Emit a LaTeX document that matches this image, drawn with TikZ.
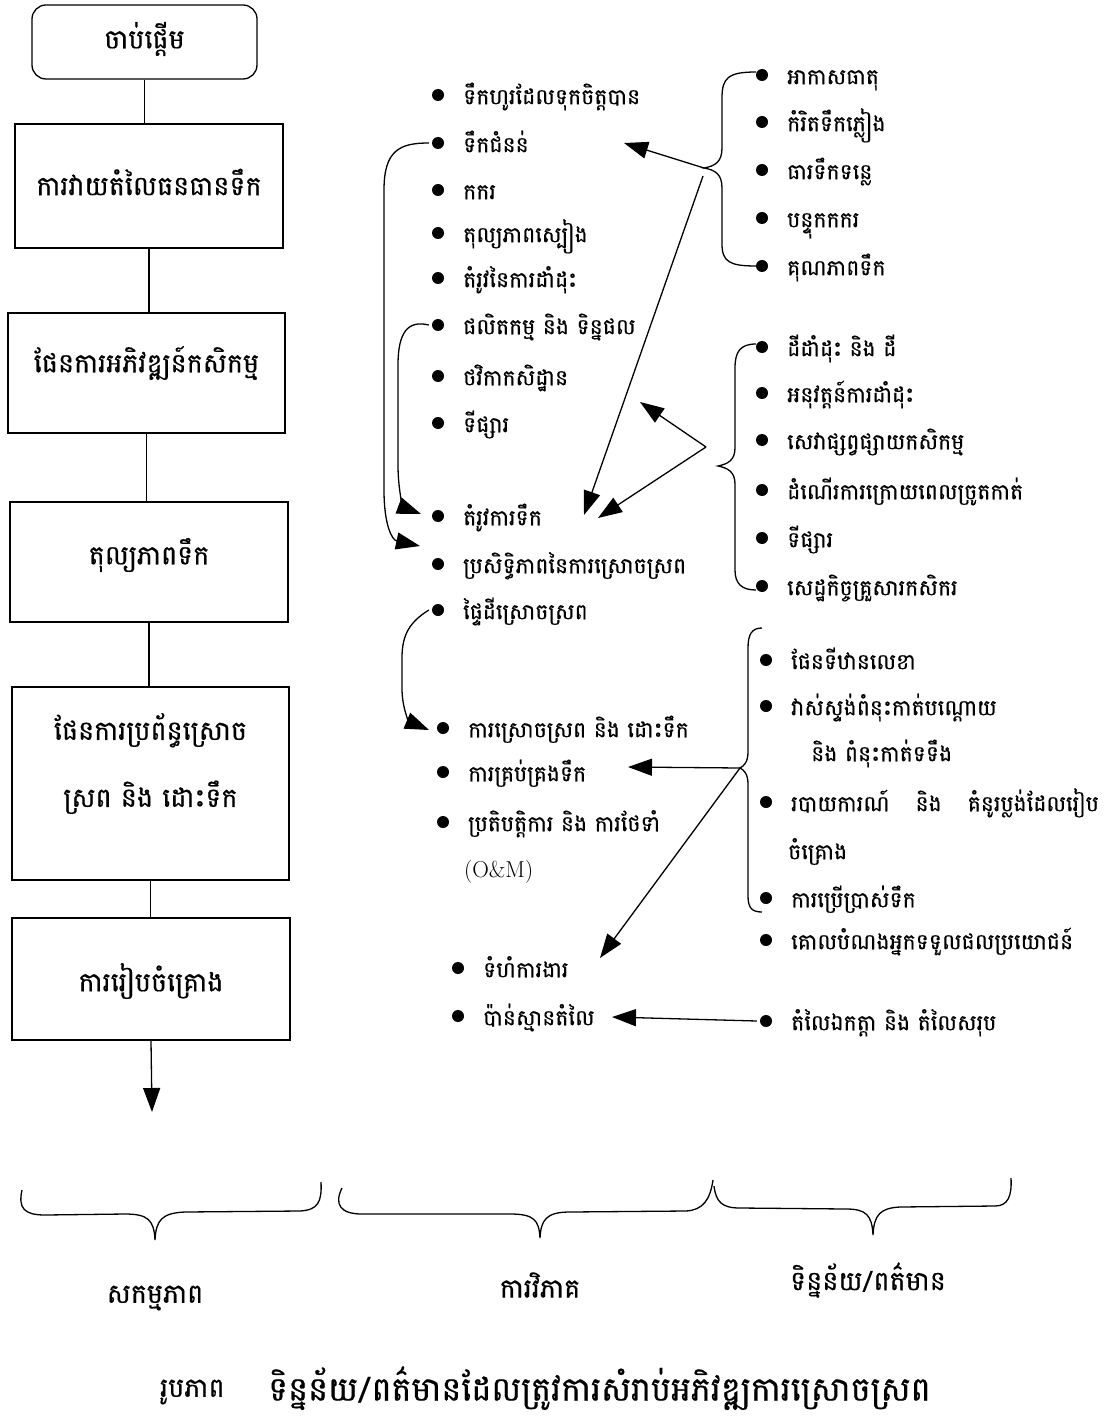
\documentclass[tikz,border=0pt]{standalone}
\usepackage{fontspec}
\newfontfamily\kh[Script=Khmer,FakeBold=0.5]{Battambang}
\usetikzlibrary{arrows.meta}
\newcommand\kitem[4]{%
  \node[item] (#1) at (#2,#3) {#4};
  \node[dot] (d#1) at ([xshift=-25pt]#1.west) {};}
\begin{document}
\begin{tikzpicture}[x=1pt,y=-1pt,
  lw/.style={line width=1.3pt},
  stage/.style={draw,line width=1.3pt,inner sep=0pt},
  stagetext/.style={inner sep=0pt,align=center,font=\kh\fontsize{27}{67}\selectfont},
  dot/.style={circle,fill,inner sep=0pt,minimum size=12pt},
  item/.style={anchor=west,inner sep=0pt,text height=22pt,text depth=3.5pt,
    font=\kh\fontsize{22}{26}\selectfont},
  plain/.style={item},
  arr/.style={line width=1.3pt,-{Triangle[length=24pt,width=17pt]}},
  brace/.style={line width=1.3pt},
  heading/.style={font=\kh\fontsize{27}{30}\selectfont,inner sep=0pt},
  caption/.style={font=\kh\fontsize{33.5}{36}\selectfont,inner sep=0pt,anchor=west},
]
\useasboundingbox[fill=white] (0,0) rectangle (1119,1420);

% ---- stages ----
\node[stage,rounded corners=14pt,minimum width=225pt,minimum height=74pt] (s0) at (144.5,42) {};
\node[stagetext] (s0t) at ([yshift=3pt]s0.center) {ចាប់ផ្ដើម};
\node[stage,minimum width=268pt,minimum height=124pt] (s1) at (149,186) {};
\node[stagetext] (s1t) at ([yshift=4pt]s1.center) {ការវាយតំលៃធនធានទឹក};
\node[stage,minimum width=277pt,minimum height=120pt] (s2) at (146.5,373) {};
\node[stagetext] (s2t) at ([yshift=10pt]s2.center) {ផែនការអភិវឌ្ឍន៍កសិកម្ម};
\node[stage,minimum width=278pt,minimum height=120pt] (s3) at (149,562) {};
\node[stagetext] (s3t) at ([yshift=7pt]s3.center) {តុល្យភាពទឹក};
\node[stage,minimum width=277pt,minimum height=193pt] (s4) at (150.5,783.5) {};
\node[stagetext] (s4t) at ([yshift=20pt]s4.center) {ផែនការប្រព័ន្ធស្រោច\\ស្រព និង ដោះទឹក};
\node[stage,minimum width=278pt,minimum height=122pt] (s5) at (151,979) {};
\node[stagetext] (s5t) at ([yshift=-2pt]s5.center) {ការរៀបចំគ្រោង};
\draw[lw] (s0.south) -- (s0.south |- s1.north);
\draw[lw] (s1.south) -- (s1.south |- s2.north);
\draw[lw] (s2.south) -- (s2.south |- s3.north);
\draw[lw] (s3.south) -- (s3.south |- s4.north);
\draw[lw] (s4.south) -- (s4.south |- s5.north);
\coordinate (out) at (152,1112);
\draw[arr] (s5.south) -- (out);

% ---- analysis column ----
\kitem{m1}{463}{95}{ទឹកហូរដែលទុកចិត្តបាន}
\kitem{m2}{463}{143}{ទឹកជំនន់}
\kitem{m3}{463}{190}{កករ}
\kitem{m4}{463}{233}{តុល្យភាពស្បៀង}
\kitem{m5}{463}{278}{តំរូវនៃការដាំដុះ}
\kitem{m6}{463}{325}{ផលិតកម្ម និង ទិន្នផល}
\kitem{m7}{463}{376}{ថវិកាកសិដ្ឋាន}
\kitem{m8}{463}{423}{ទីផ្សារ}
\kitem{m9}{463}{516}{តំរូវការទឹក}
\kitem{m10}{463}{564}{ប្រសិទ្ធិភាពនៃការស្រោចស្រព}
\kitem{m11}{463}{610}{ផ្ទៃដីស្រោចស្រព}
\kitem{m12}{468}{728}{ការស្រោចស្រព និង ដោះទឹក}
\kitem{m13}{468}{772}{ការគ្រប់គ្រងទឹក}
\kitem{m14}{468}{822}{ប្រតិបត្តិការ និង ការថែទាំ}
\node[anchor=west,inner sep=0pt,font=\fontsize{23}{26}\selectfont] (om) at (464,872) {(O\&M)};
\kitem{m15}{483}{968}{ទំហំការងារ}
\kitem{m16}{483}{1016}{ប៉ាន់ស្មានតំលៃ}

% ---- data column ----
\kitem{r1}{787}{75}{អាកាសធាតុ}
\kitem{r2}{787}{122}{កំរិតទឹកភ្លៀង}
\kitem{r3}{787}{170}{ធារទឹកទន្លេ}
\kitem{r4}{787}{218}{បន្ទុកកករ}
\kitem{r5}{787}{266}{គុណភាពទឹក}

\kitem{p1}{787}{347}{ដីដាំដុះ និង ដី}
\kitem{p2}{787}{393}{អនុវត្តន៍ការដាំដុះ}
\kitem{p3}{787}{440}{សេវាផ្សព្វផ្សាយកសិកម្ម}
\kitem{p4}{787}{490}{ដំណើរការក្រោយពេលច្រូតកាត់}
\kitem{p5}{787}{538}{ទីផ្សារ}
\kitem{p6}{787}{586}{សេដ្ឋកិច្ចគ្រួសារកសិករ}

\kitem{q1}{791}{660}{ផែនទីឋានលេខា}
\kitem{q2}{791}{706}{វាស់ស្ទង់ពំនុះកាត់បណ្ដោយ}
\node[plain] (q2b) at (811,752) {និង ពំនុះកាត់ទទឹង};
\kitem{q3}{791}{802}{របាយការណ៍\hspace{26pt}និង\hspace{26pt}គំនូរប្លង់ដែលរៀប}
\node[plain] (q3b) at (788,850) {ចំគ្រោង};
\kitem{q4}{791}{898}{ការប្រើប្រាស់ទឹក}
\kitem{q5}{791}{940}{គោលបំណងអ្នកទទួលផលប្រយោជន៍}
\kitem{c1}{791}{1021}{តំលៃឯកត្តា និង តំលៃសរុប}

% ---- braces grouping the data ----
\coordinate (k1) at (704,168);
\draw[brace] (756,72) .. controls (728,72) and (722,78) .. (722,98) -- (722,148)
  .. controls (722,162) and (715,166) .. (k1)
  .. controls (715,170) and (722,174) .. (722,188) -- (722,244)
  .. controls (722,262) and (730,266) .. (756,266);
\coordinate (k2) at (718,466);
\draw[brace] (756,344) .. controls (740,344) and (735,352) .. (735,368) -- (735,448)
  .. controls (735,460) and (728,464) .. (k2)
  .. controls (728,468) and (735,472) .. (735,484) -- (735,570)
  .. controls (735,584) and (742,590) .. (756,590);
\coordinate (k3) at (740,768);
\draw[brace] (762,628) .. controls (752,628) and (748,634) .. (748,648) -- (748,752)
  .. controls (748,762) and (744,766) .. (k3)
  .. controls (744,770) and (748,774) .. (748,784) -- (748,896)
  .. controls (748,908) and (752,912) .. (762,912);

% ---- connectors ----
\coordinate (a1) at (624,143);
\coordinate (a2) at (584,515);
\draw[arr] (k1) -- (a1);
\draw[arr] ([xshift=-1pt,yshift=-8pt]k1) -- (a2);
\coordinate (v) at (706,447);
\coordinate (a3) at (640,402);
\coordinate (a4) at (598,518);
\draw[arr] (v) -- (a3);
\draw[arr] (v) -- (a4);

\coordinate (a5) at (420,546);
\draw[arr] ([xshift=-3pt]dm2.west) .. controls (400,143) and (384,150) .. (384,190)
  -- (384,490) .. controls (384,525) and (392,540) .. (a5);
\coordinate (a6) at (421,514);
\draw[arr] ([xshift=-3pt]dm6.west) .. controls (408,320) and (398,332) .. (398,365)
  -- (398,465) .. controls (398,495) and (405,508) .. (a6);
\coordinate (a7) at (429,730);
\draw[arr] ([xshift=-3pt]dm11.west) .. controls (410,622) and (402,634) .. (402,658)
  -- (402,688) .. controls (402,710) and (410,722) .. (a7);

\coordinate (a8) at (628,767);
\coordinate (a9) at (600,958);
\draw[arr] (k3) -- (a8);
\draw[arr] (k3) -- (a9);
\coordinate (a10) at (612,1017);
\draw[arr] ([xshift=-3pt]dc1.west) -- (a10);

% ---- column braces and headings ----
\coordinate (b1) at (155,1240);
\draw[brace] (22,1190) .. controls (18,1208) and (24,1215) .. (45,1215) -- (125,1214)
  .. controls (148,1214) and (154,1220) .. (b1)
  .. controls (156,1220) and (162,1213) .. (185,1212) -- (300,1211)
  .. controls (318,1210) and (322,1202) .. (321,1182);
\coordinate (b2) at (540,1238);
\draw[brace] (342,1188) .. controls (334,1204) and (340,1214) .. (362,1214) -- (510,1214)
  .. controls (534,1214) and (539,1220) .. (b2)
  .. controls (541,1220) and (546,1212) .. (570,1212) -- (686,1211)
  .. controls (703,1210) and (710,1200) .. (713,1180);
\coordinate (b3) at (873,1235);
\draw[brace] (714,1186) .. controls (716,1202) and (722,1208) .. (740,1208) -- (846,1209)
  .. controls (866,1209) and (872,1215) .. (b3)
  .. controls (874,1215) and (880,1208) .. (900,1207) -- (995,1206)
  .. controls (1008,1206) and (1012,1196) .. (1011,1178);
\node[heading] (h1) at (155,1298) {សកម្មភាព};
\node[heading] (h2) at (540,1285) {ការវិភាគ};
\node[heading] (h3) at (868,1280) {ទិន្នន័យ/ពត៌មាន};

% ---- figure title ----
\node[caption,font=\kh\fontsize{27}{30}\selectfont] (f1) at (160,1392) {រូបភាព};
\node[caption] (f2) at (268,1388) {ទិន្នន័យ/ពត៌មានដែលត្រូវការសំរាប់អភិវឌ្ឍការស្រោចស្រព};
\end{tikzpicture}
\end{document}
